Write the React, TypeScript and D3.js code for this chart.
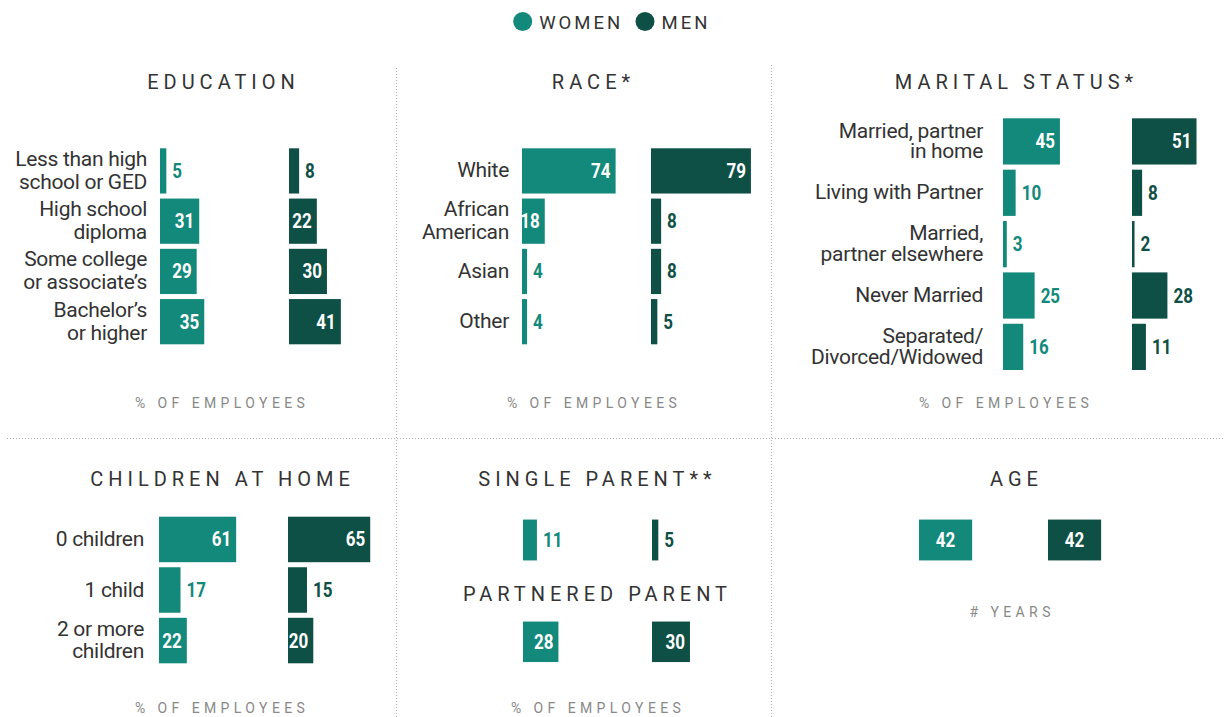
import { useEffect, useRef } from "react";
import * as d3 from "d3";

const WIDTH = 1225;
const HEIGHT = 717;
const WOMEN_COLOR = "#13897b";
const MEN_COLOR = "#0e5046";
const FONT = "Roboto, 'Open Sans', sans-serif";

// legend
const legendKeys = ["WOMEN", "MEN"];

// education
const educationLabels = ["Less than high\nschool or GED", "High school\ndiploma", "Some college\nor associate’s", "Bachelor’s\nor higher"];
const educationWomen = [5, 31, 29, 35];
const educationMen = [8, 22, 30, 41];

// race
const raceLabels = ["White", "African\nAmerican", "Asian", "Other"];
const raceWomen = [74, 18, 4, 4];
const raceMen = [79, 8, 8, 5];

// marital status
const maritalLabels = ["Married, partner\nin home", "Living with Partner", "Married,\npartner elsewhere", "Never Married", "Separated/\nDivorced/Widowed"];
const maritalWomen = [45, 10, 3, 25, 16];
const maritalMen = [51, 8, 2, 28, 11];

// children at home
const childrenLabels = ["0 children", "1 child", "2 or more\nchildren"];
const childrenWomen = [61, 17, 22];
const childrenMen = [65, 15, 20];

// parents
const singleParentWomen = [11];
const singleParentMen = [5];
const partneredParentWomen = [28];
const partneredParentMen = [30];

// age (years)
const ageWomen = [42];
const ageMen = [42];

const axisNotes = ["% OF EMPLOYEES", "# YEARS"];

interface Panel {
	title: string;
	labels: string[];
	women: number[];
	men: number[];
	titleX: number;
	titleY: number;
	barX: number; // where the women bars start
	top: number;
	bottom: number;
	labelGap: number;
	lineHeight: number;
	insideMin: number;
	centerValue?: boolean;
}

const panels: Panel[] = [
	{ title: "EDUCATION", labels: educationLabels, women: educationWomen, men: educationMen, titleX: 221, titleY: 89, barX: 160, top: 148.3, bottom: 344.3, labelGap: 13, lineHeight: 23, insideMin: 18 },
	{ title: "RACE*", labels: raceLabels, women: raceWomen, men: raceMen, titleX: 591, titleY: 89, barX: 522, top: 148.3, bottom: 344.3, labelGap: 13, lineHeight: 23, insideMin: 18 },
	{ title: "MARITAL STATUS*", labels: maritalLabels, women: maritalWomen, men: maritalMen, titleX: 1014, titleY: 89, barX: 1003, top: 118.3, bottom: 370, labelGap: 20, lineHeight: 20.5, insideMin: 45 },
	{ title: "CHILDREN AT HOME", labels: childrenLabels, women: childrenWomen, men: childrenMen, titleX: 220, titleY: 486, barX: 159, top: 516.7, bottom: 663.3, labelGap: 15, lineHeight: 22, insideMin: 18 },
	{ title: "SINGLE PARENT**", labels: [""], women: singleParentWomen, men: singleParentMen, titleX: 595, titleY: 486, barX: 523, top: 517.3, bottom: 562.7, labelGap: 15, lineHeight: 22, insideMin: 18 },
	{ title: "PARTNERED PARENT", labels: [""], women: partneredParentWomen, men: partneredParentMen, titleX: 595, titleY: 601, barX: 523, top: 619.3, bottom: 664.3, labelGap: 15, lineHeight: 22, insideMin: 18 },
	{ title: "AGE", labels: [""], women: ageWomen, men: ageMen, titleX: 1014, titleY: 486, barX: 919, top: 517.3, bottom: 562.7, labelGap: 15, lineHeight: 22, insideMin: 18, centerValue: true },
];

// axis notes under the panels
const notes = [
	{ text: axisNotes[0], x: 220, y: 408 },
	{ text: axisNotes[0], x: 592, y: 408 },
	{ text: axisNotes[0], x: 1004, y: 408 },
	{ text: axisNotes[0], x: 220, y: 713 },
	{ text: axisNotes[0], x: 596, y: 713 },
	{ text: axisNotes[1], x: 1010, y: 617 },
];

const MEN_OFFSET = 129;
const CONDENSE = 0.85; // fake a condensed bold face for the values

function drawPanel(svg: d3.Selection<SVGSVGElement, unknown, null, undefined>, p: Panel) {
	const x = d3.scaleLinear().domain([0, 100]).range([0, 126.5]);
	const y = d3
		.scaleBand<number>()
		.domain(d3.range(p.labels.length))
		.range([p.top, p.bottom])
		.paddingInner(0.1);

	const g = svg.append("g");

	// title (letter-spacing adds trailing space, so nudge by half of it)
	g.append("text")
		.attr("x", p.titleX + 2.5)
		.attr("y", p.titleY)
		.attr("text-anchor", "middle")
		.attr("font-size", 20)
		.attr("letter-spacing", 5)
		.attr("fill", "#333")
		.text(p.title);

	// category labels, possibly multi-line
	p.labels.forEach((label, i) => {
		if (!label) return;
		const lines = label.split("\n");
		const cy = y(i)! + y.bandwidth() / 2;
		const t = g
			.append("text")
			.attr("text-anchor", "end")
			.attr("font-size", 21)
			.attr("letter-spacing", -0.3)
			.attr("fill", "#333");
		lines.forEach((line, j) => {
			t.append("tspan")
				.attr("x", p.barX - p.labelGap)
				.attr("y", cy + 6.5 + (j - (lines.length - 1) / 2) * p.lineHeight)
				.text(line);
		});
	});

	const series = [
		{ values: p.women, x0: p.barX, color: WOMEN_COLOR },
		{ values: p.men, x0: p.barX + MEN_OFFSET, color: MEN_COLOR },
	];

	series.forEach((s) => {
		const sg = g.append("g");
		sg.selectAll("rect")
			.data(s.values)
			.enter()
			.append("rect")
			.attr("x", s.x0)
			.attr("y", (_, i) => y(i)!)
			.attr("width", (d) => x(d))
			.attr("height", y.bandwidth())
			.attr("fill", s.color);

		const inside = (d: number) => p.centerValue || d >= p.insideMin;

		sg.selectAll("text")
			.data(s.values)
			.enter()
			.append("text")
			.attr("font-size", 20)
			.attr("font-weight", 700)
			.attr("transform", (d, i) => {
				let tx = s.x0 + x(d) + 6;
				if (p.centerValue) tx = s.x0 + x(d) / 2;
				else if (inside(d)) tx = s.x0 + x(d) - 5;
				const ty = y(i)! + y.bandwidth() / 2 + 7;
				return `translate(${tx},${ty}) scale(${CONDENSE},1)`;
			})
			.attr("text-anchor", (d) => (p.centerValue ? "middle" : inside(d) ? "end" : "start"))
			.attr("fill", (d) => (inside(d) ? "#fff" : s.color))
			.text((d) => d);
	});
}

export default function App() {
	const ref = useRef<SVGSVGElement>(null);

	useEffect(() => {
		if (!ref.current) return;
		const svg = d3.select(ref.current);
		svg.selectAll("*").remove();
		svg.attr("font-family", FONT);

		// dotted grid dividers
		const grid = svg.append("g").attr("stroke", "#aaa").attr("stroke-width", 1).attr("stroke-dasharray", "1,2");
		grid.append("line").attr("x1", 7).attr("x2", WIDTH).attr("y1", 438.5).attr("y2", 438.5);
		grid.append("line").attr("x1", 396.5).attr("x2", 396.5).attr("y1", 68).attr("y2", HEIGHT);
		grid.append("line").attr("x1", 771.5).attr("x2", 771.5).attr("y1", 65).attr("y2", HEIGHT);

		// legend
		const legendColors = [WOMEN_COLOR, MEN_COLOR];
		const legendX = [522.7, 645];
		legendKeys.forEach((k, i) => {
			svg.append("circle")
				.attr("cx", legendX[i])
				.attr("cy", 21.5)
				.attr("r", 9.5)
				.attr("fill", legendColors[i]);
			svg.append("text")
				.attr("x", legendX[i] + 16.5)
				.attr("y", 28.5)
				.attr("font-size", 18.5)
				.attr("letter-spacing", 3)
				.attr("fill", "#333")
				.text(k);
		});

		panels.forEach((p) => drawPanel(svg, p));

		notes.forEach((n) => {
			svg.append("text")
				.attr("x", n.x + 2.2)
				.attr("y", n.y)
				.attr("text-anchor", "middle")
				.attr("font-size", 14)
				.attr("letter-spacing", 4.4)
				.attr("fill", "#888")
				.text(n.text);
		});
	}, []);

	return (
		<svg
			ref={ref}
			width={WIDTH}
			height={HEIGHT}
			style={{ position: "absolute", left: 0, top: 0, background: "#fff" }}
		/>
	);
}
